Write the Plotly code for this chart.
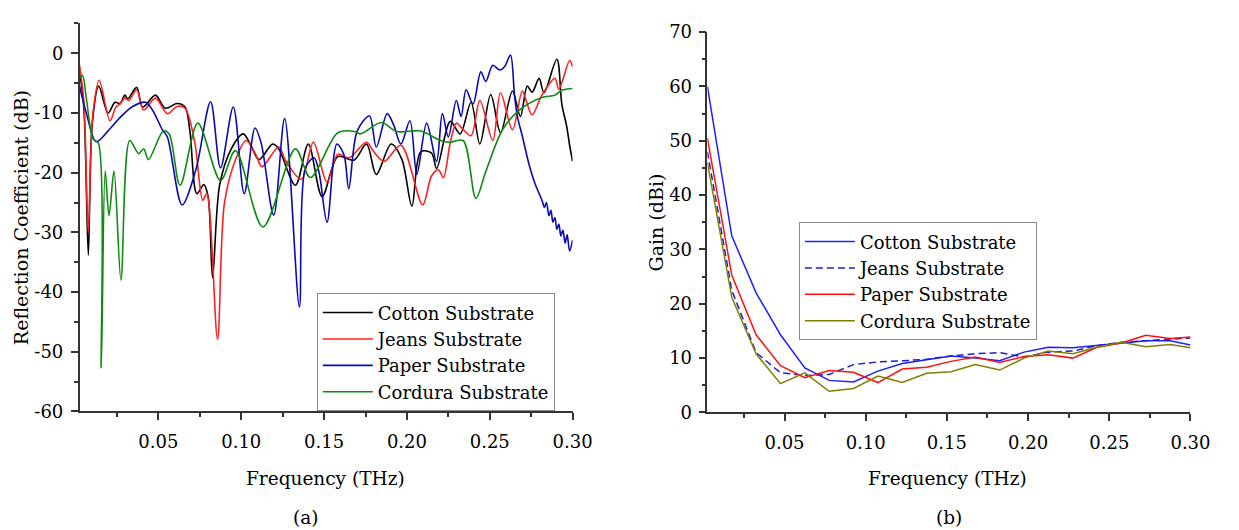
import plotly.graph_objects as go

# ---------------- (a) Reflection coefficient data ----------------
cotton_f = [0.0024, 0.0050, 0.0077, 0.0100, 0.0140, 0.0196, 0.0238, 0.0268, 0.0298, 0.0315,
            0.0369, 0.0405, 0.0482, 0.0542, 0.0613, 0.0661, 0.0690, 0.0732, 0.0774, 0.0800,
            0.0827, 0.0870, 0.0940, 0.1012, 0.1060, 0.1107, 0.1190, 0.1226, 0.1327, 0.1405,
            0.1488, 0.1583, 0.1680, 0.1756, 0.1815, 0.1905, 0.1970, 0.2030, 0.2083, 0.2149,
            0.2179, 0.2262, 0.2321, 0.2387, 0.2440, 0.2506, 0.2565, 0.2637, 0.2685, 0.2726,
            0.2756, 0.2798, 0.2827, 0.2905, 0.2935, 0.2964, 0.2982, 0.3000]
cotton_db = [-3.0, -9.0, -33.8, -12.0, -5.5, -10.0, -8.2, -8.4, -7.0, -7.6,
             -5.7, -9.0, -7.0, -9.2, -8.4, -9.0, -13.0, -23.5, -22.0, -24.0,
             -37.6, -22.0, -16.0, -13.5, -15.5, -17.8, -15.2, -16.0, -22.1, -15.2,
             -24.0, -17.3, -17.9, -15.2, -20.3, -15.2, -17.8, -25.6, -16.5, -16.7,
             -19.3, -11.4, -13.5, -8.2, -15.2, -6.9, -13.3, -6.3, -10.6, -5.5,
             -6.5, -4.2, -6.6, -1.0, -8.5, -12.2, -15.4, -18.1]

jeans_f = [0.0024, 0.0050, 0.0077, 0.0105, 0.0143, 0.0208, 0.0244, 0.0268, 0.0298, 0.0321,
           0.0369, 0.0411, 0.0482, 0.0554, 0.0613, 0.0661, 0.0720, 0.0768, 0.0792, 0.0857,
           0.0899, 0.0970, 0.1030, 0.1089, 0.1125, 0.1226, 0.1268, 0.1363, 0.1435, 0.1518,
           0.1583, 0.1650, 0.1756, 0.1800, 0.1863, 0.1964, 0.2095, 0.2149, 0.2190, 0.2220,
           0.2262, 0.2298, 0.2330, 0.2387, 0.2440, 0.2518, 0.2565, 0.2637, 0.2696, 0.2726,
           0.2756, 0.2815, 0.2893, 0.2917, 0.2982, 0.3000]
jeans_db = [-2.0, -8.0, -30.0, -10.0, -4.5, -11.3, -9.0, -8.5, -7.5, -7.9,
            -6.1, -9.5, -7.5, -10.1, -8.9, -9.2, -15.0, -24.6, -23.5, -47.9,
            -25.0, -17.5, -14.6, -17.0, -19.0, -15.7, -18.0, -21.1, -14.9, -21.6,
            -16.9, -17.5, -14.9, -16.5, -18.1, -15.4, -25.4, -20.5, -19.5, -20.8,
            -14.9, -11.7, -12.5, -13.8, -7.9, -14.6, -6.6, -12.8, -6.3, -8.5,
            -10.3, -7.0, -4.2, -6.0, -1.2, -2.3]

paper_f = [0.0024, 0.0065, 0.0125, 0.0196, 0.0274, 0.0345, 0.0423, 0.0464, 0.0524, 0.0554,
           0.0643, 0.0726, 0.0815, 0.0875, 0.0952, 0.1018, 0.1083, 0.1120, 0.1196, 0.1262,
           0.1351, 0.1387, 0.1440, 0.1470, 0.1518, 0.1577, 0.1620, 0.1649, 0.1700, 0.1774,
           0.1815, 0.1881, 0.1920, 0.1964, 0.2018, 0.2060, 0.2119, 0.2179, 0.2214, 0.2250,
           0.2298, 0.2327, 0.2357, 0.2399, 0.2446, 0.2476, 0.2518, 0.2560, 0.2590, 0.2625,
           0.2649, 0.2667, 0.2696, 0.2738, 0.2774, 0.2815, 0.2830, 0.2842, 0.2857, 0.2869,
           0.2881, 0.2893, 0.2905, 0.2917, 0.2929, 0.2941, 0.2955, 0.2967, 0.2982, 0.3000]
paper_db = [-5.5, -10.0, -14.8, -13.0, -10.6, -8.9, -8.2, -9.5, -12.8, -14.0,
            -25.4, -19.5, -8.1, -19.2, -9.0, -23.5, -12.5, -15.0, -27.1, -10.9,
            -42.5, -19.2, -17.5, -20.0, -28.3, -15.2, -17.0, -22.7, -13.0, -10.5,
            -15.7, -10.1, -12.0, -15.2, -11.3, -20.3, -11.7, -18.1, -10.1, -14.0,
            -7.9, -10.6, -6.1, -8.5, -3.1, -4.7, -2.0, -2.8, -2.2, -0.3,
            -6.9, -10.6, -13.8, -18.7, -21.9, -24.6, -25.8, -25.0, -27.2, -26.3,
            -28.3, -27.5, -29.5, -28.6, -30.6, -29.6, -31.8, -30.4, -33.1, -31.3]

cordura_f = [0.0024, 0.0042, 0.0065, 0.0107, 0.0137, 0.0155, 0.0179, 0.0202, 0.0232, 0.0274,
             0.0327, 0.0381, 0.0411, 0.0440, 0.0530, 0.0565, 0.0631, 0.0738, 0.0875, 0.0965,
             0.1131, 0.1327, 0.1417, 0.1583, 0.1685, 0.1720, 0.1845, 0.1940, 0.2083, 0.2202,
             0.2262, 0.2339, 0.2416, 0.2476, 0.2577, 0.2679, 0.2815, 0.2893, 0.2935, 0.3000]
cordura_db = [-4.0, -3.7, -7.5, -14.4, -15.0, -52.7, -19.7, -27.2, -19.7, -38.0,
              -14.6, -16.8, -16.0, -17.8, -13.0, -13.5, -22.1, -11.7, -21.3, -16.3,
              -29.1, -16.0, -20.8, -13.3, -13.1, -13.5, -11.6, -13.1, -13.0, -14.6,
              -14.9, -14.6, -24.3, -19.8, -12.8, -9.5, -7.4, -7.0, -6.2, -5.9]

# ---------------- (b) Gain data ----------------
gain_f = [0.0025, 0.0175, 0.0325, 0.0475, 0.0625, 0.0775, 0.0925, 0.1075, 0.1225, 0.1375,
          0.1525, 0.1675, 0.1825, 0.1975, 0.2125, 0.2275, 0.2425, 0.2575, 0.2725, 0.2875, 0.3000]
gain_cotton = [60.0, 32.5, 22.0, 14.3, 8.2, 5.9, 5.6, 7.6, 9.0, 9.7,
               10.4, 10.0, 9.5, 11.1, 12.0, 11.9, 12.3, 12.8, 13.2, 13.2, 12.4]
gain_jeans = [48.0, 22.5, 11.0, 7.3, 6.8, 7.0, 8.8, 9.3, 9.5, 9.8,
              10.4, 10.8, 11.0, 10.2, 11.1, 11.3, 12.3, 12.9, 13.2, 13.4, 13.7]
gain_paper = [50.5, 25.3, 14.3, 8.6, 6.4, 7.7, 7.4, 5.5, 8.0, 8.3,
              9.4, 10.2, 9.2, 10.3, 10.6, 10.0, 12.0, 12.8, 14.2, 13.6, 13.9]
gain_cordura = [46.0, 21.2, 10.8, 5.3, 7.3, 3.9, 4.4, 6.7, 5.5, 7.2,
                7.5, 8.8, 7.8, 10.0, 11.3, 10.8, 12.0, 12.9, 12.1, 12.5, 11.9]

names = ["Cotton Substrate", "Jeans Substrate", "Paper Substrate", "Cordura Substrate"]
x_ticks = [0.05, 0.10, 0.15, 0.20, 0.25, 0.30]
x_ticktext = ["0.05", "0.10", "0.15", "0.20", "0.25", "0.30"]
refl_ticks = [-60, -50, -40, -30, -20, -10, 0]
refl_ticktext = ["-60", "-50", "-40", "-30", "-20", "-10", "0"]
gain_ticks = [0, 10, 20, 30, 40, 50, 60, 70]

FONT = "DejaVu Serif"
W, H = 1239, 530

fig = go.Figure()

left_colors = ["#000000", "#ff1f1f", "#0a0ab0", "#108a10"]
left_data = [(cotton_f, cotton_db), (jeans_f, jeans_db), (paper_f, paper_db), (cordura_f, cordura_db)]
for (fx, fy), name, col in zip(left_data, names, left_colors):
    fig.add_trace(go.Scatter(x=fx, y=fy, name=name, mode="lines",
                             line=dict(color=col, width=1.6, shape="spline", smoothing=0.9),
                             xaxis="x", yaxis="y", legend="legend"))

right_colors = ["#1f1fff", "#1f1fd0", "#ff1010", "#7f7f00"]
right_dash = ["solid", "7px,4px", "solid", "solid"]
right_data = [gain_cotton, gain_jeans, gain_paper, gain_cordura]
for gy, name, col, dsh in zip(right_data, names, right_colors, right_dash):
    fig.add_trace(go.Scatter(x=gain_f, y=gy, name=name, mode="lines",
                             line=dict(color=col, width=1.5, dash=dsh),
                             xaxis="x2", yaxis="y2", legend="legend2"))

axis_common = dict(showline=True, linecolor="#333333", linewidth=1.5, ticks="outside",
                   ticklen=7, tickwidth=1.5, tickcolor="#333333", showgrid=False, zeroline=False,
                   tickfont=dict(family=FONT, size=18, color="#000000"))

minor_x = dict(tickmode="array", tickvals=[0.025, 0.075, 0.125, 0.175, 0.225, 0.275],
               ticks="outside", ticklen=4, tickwidth=1.5, tickcolor="#333333", showgrid=False)

fig.update_layout(
    width=W, height=H,
    margin=dict(l=0, r=0, t=0, b=0),
    paper_bgcolor="white", plot_bgcolor="white",
    showlegend=True,
    font=dict(family=FONT),
    xaxis=dict(domain=[81 / W, 582 / W], range=[0.0025, 0.30], anchor="y",
               tickmode="array", tickvals=x_ticks, ticktext=x_ticktext,
               ticklabelstandoff=6, minor=minor_x, **axis_common),
    yaxis=dict(domain=[1 - 417 / H, 1 - 13 / H], range=[-60, 5], anchor="x",
               tickmode="array", tickvals=refl_ticks, ticktext=refl_ticktext,
               ticklabelstandoff=4,
               minor=dict(tickmode="array", tickvals=[-55, -45, -35, -25, -15, -5, 5],
                          ticks="outside", ticklen=4, tickwidth=1.5, tickcolor="#333333",
                          showgrid=False),
               **axis_common),
    xaxis2=dict(domain=[719 / W, 1210 / W], range=[0.0025, 0.30], anchor="y2",
                tickmode="array", tickvals=x_ticks, ticktext=x_ticktext,
                ticklabelstandoff=6, minor=minor_x, **axis_common),
    yaxis2=dict(domain=[1 - 418 / H, 1 - 22 / H], range=[0, 70], anchor="x2",
                tickmode="array", tickvals=gain_ticks,
                ticklabelstandoff=3,
                minor=dict(tickmode="array", tickvals=[5, 15, 25, 35, 45, 55, 65],
                           ticks="outside", ticklen=4, tickwidth=1.5, tickcolor="#333333",
                           showgrid=False),
                **axis_common),
    legend=dict(x=322 / W, y=1 - 294 / H, xanchor="left", yanchor="top",
                bgcolor="white", bordercolor="#8a8a8a", borderwidth=1,
                font=dict(family=FONT, size=18, color="#000000"),
                tracegroupgap=0, itemwidth=50),
    legend2=dict(x=812 / W, y=1 - 220 / H, xanchor="left", yanchor="top",
                 bgcolor="white", bordercolor="#8a8a8a", borderwidth=1,
                 font=dict(family=FONT, size=18, color="#000000"),
                 tracegroupgap=0, itemwidth=50),
)

ann_font = dict(family=FONT, size=18.5, color="#000000")
annotations = [
    dict(text="Reflection Coefficient (dB)", x=22 / W, y=1 - 215 / H, textangle=-90, size=19),
    dict(text="Gain (dBi)", x=667 / W, y=1 - 220 / H, textangle=-90, size=19),
    dict(text="Frequency (THz)", x=331 / W, y=1 - 487 / H, textangle=0, size=18.5),
    dict(text="Frequency (THz)", x=963 / W, y=1 - 487 / H, textangle=0, size=18.5),
    dict(text="(a)", x=311 / W, y=1 - 527 / H, textangle=0, size=18.5),
    dict(text="(b)", x=965 / W, y=1 - 527 / H, textangle=0, size=18.5),
]
for a in annotations:
    fig.add_annotation(xref="paper", yref="paper", xanchor="center", yanchor="middle",
                       showarrow=False, text=a["text"], x=a["x"], y=a["y"],
                       textangle=a["textangle"],
                       font=dict(family=FONT, size=a["size"], color="#000000"))

fig.write_html("out.html")
